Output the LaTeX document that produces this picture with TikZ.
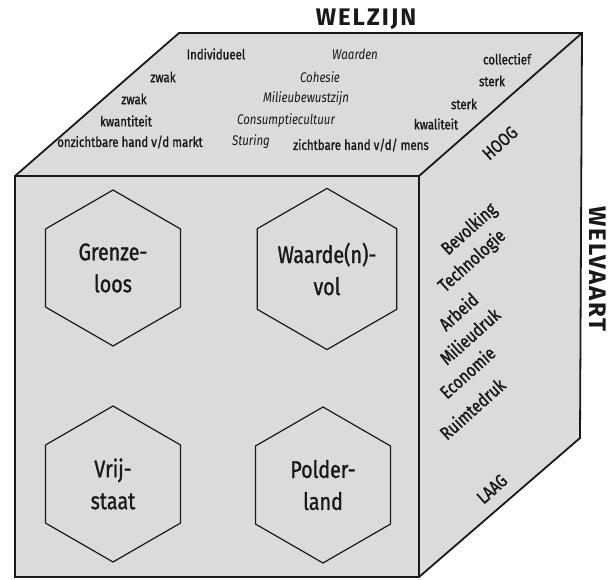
\documentclass[tikz,border=0pt]{standalone}
\usepackage{fontspec}
\setmainfont{Fira Sans}[FakeStretch=0.82]
\newfontfamily\medfont{Fira Sans}[FakeStretch=0.82, FakeBold=1.2]
\newfontfamily\titlefont{Fira Sans}[LetterSpace=8]
\usetikzlibrary{shapes.geometric}
\definecolor{face}{gray}{0.86}
\definecolor{ink}{gray}{0.1}
\tikzset{
  edge/.style={draw=ink, line width=1.8pt, line join=miter},
  hex/.style={regular polygon, regular polygon sides=6, shape border rotate=30,
    minimum size=156pt, inner sep=0pt, draw=ink, line width=1.2pt, align=center,
    text=ink, font=\medfont\fontsize{24}{32}\selectfont},
  toplbl/.style={text=ink, inner sep=0pt, font=\medfont\fontsize{14}{16}\selectfont},
  topit/.style={text=ink, inner sep=0pt, font=\fontsize{14}{16}\selectfont\itshape},
  sidelbl/.style={text=ink, inner sep=0pt, rotate=42, anchor=base west,
    font=\medfont\fontsize{18.5}{20}\selectfont},
  endlbl/.style={text=ink, inner sep=0pt, rotate=42,
    font=\medfont\fontsize{18}{20}\selectfont},
  axislbl/.style={text=ink, inner sep=0pt, font=\titlefont\fontsize{24}{26}\selectfont\bfseries}
}
\begin{document}
\begin{tikzpicture}[x=1pt, y=-1pt]
\useasboundingbox (0,0) rectangle (615,579);
% cube corners
\coordinate (FTL) at (15,176);
\coordinate (FTR) at (419,176);
\coordinate (FBR) at (419,577);
\coordinate (FBL) at (15,577);
\coordinate (BTL) at (179,33);
\coordinate (BTR) at (582,33);
\coordinate (BBR) at (580,438);
% faces
\fill[face] (FTL) -- (BTL) -- (BTR) -- (FTR) -- cycle;
\fill[face] (FTR) -- (BTR) -- (BBR) -- (FBR) -- cycle;
\fill[face] (FTL) rectangle (FBR);
\draw[edge] (FTL) -- (BTL) -- (BTR) -- (BBR) -- (FBR) -- (FBL) -- cycle;
\draw[edge] (FTL) -- (FTR) -- (FBR);
\draw[edge] (FTR) -- (BTR);
% axis labels
\node[axislbl] (welzijn) at (366,19) {WELZIJN};
\node[axislbl, rotate=-90] (welvaart) at (598,269) {WELVAART};
% top face labels
\node[toplbl] (indiv) at (216,54) {Individueel};
\node[topit] (waarden) at (355,54) {Waarden};
\node[toplbl] (coll) at (507,59) {collectief};
\node[toplbl] (zwak1) at (163,77) {zwak};
\node[topit] (cohesie) at (320,77) {Cohesie};
\node[toplbl] (sterk1) at (492,81) {sterk};
\node[toplbl] (zwak2) at (134,99) {zwak};
\node[topit] (milieu) at (306,99) {Milieubewustzijn};
\node[toplbl] (sterk2) at (464,104) {sterk};
\node[toplbl] (kwant) at (126,121) {kwantiteit};
\node[topit] (consum) at (286,121) {Consumptiecultuur};
\node[toplbl] (kwal) at (436,124) {kwaliteit};
\node[toplbl] (onzicht) at (130,142) {onzichtbare hand v/d markt};
\node[topit] (sturing) at (251,142) {Sturing};
\node[toplbl] (zicht) at (361,145) {zichtbare hand v/d/ mens};
% right face labels
\node[endlbl] (hoog) at (500,143) {HOOG};
\node[sidelbl] (bevolking) at (448,256) {Bevolking};
\node[sidelbl] (techno) at (445,293) {Technologie};
\node[sidelbl] (arbeid) at (446,332) {Arbeid};
\node[sidelbl] (milieudruk) at (447,366) {Milieudruk};
\node[sidelbl] (economie) at (447,400) {Economie};
\node[sidelbl] (ruimte) at (447,441) {Ruimtedruk};
\node[endlbl] (laag) at (492,489) {LAAG};
% hexagons
\node[hex] (grenze) at (113,268) {Grenze-\\loos};
\node[hex] (waarde) at (327,269) {Waarde(n)-\\vol};
\node[hex] (vrij) at (113,484) {Vrij-\\staat};
\node[hex] (polder) at (323,485) {Polder-\\land};
\end{tikzpicture}
\end{document}
